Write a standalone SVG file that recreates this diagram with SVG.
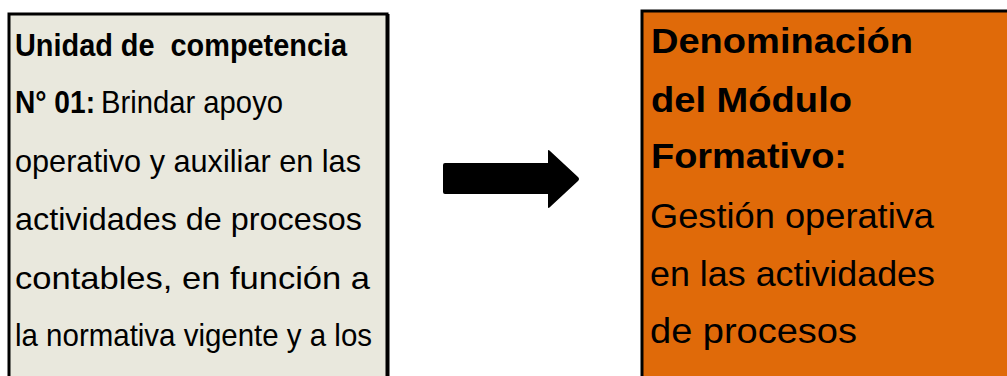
<svg xmlns="http://www.w3.org/2000/svg" width="1007" height="376" viewBox="0 0 1007 376">
<style>
.t{font-family:"Liberation Sans",Arial,sans-serif;fill:#000}
.l{font-size:32px}
.r{font-size:35px}
.b{font-weight:bold}
</style>
<rect width="1007" height="376" fill="#fff"/>
<g id="unidad">
<rect x="9" y="14" width="378" height="380" fill="#E9E8DD" stroke="#000" stroke-width="3"/>
<line x1="388" y1="14" x2="388" y2="376" stroke="#000" stroke-width="3"/>
<text class="t l b" x="15" y="56" textLength="332" lengthAdjust="spacingAndGlyphs" xml:space="preserve">Unidad de  competencia</text>
<text class="t l" x="15" y="113"><tspan class="b" textLength="80" lengthAdjust="spacingAndGlyphs">N° 01:</tspan><tspan dx="6" textLength="182" lengthAdjust="spacingAndGlyphs">Brindar apoyo</tspan></text>
<text class="t l" x="15" y="172" textLength="346" lengthAdjust="spacingAndGlyphs">operativo y auxiliar en las</text>
<text class="t l" x="15" y="230" textLength="347" lengthAdjust="spacingAndGlyphs">actividades de procesos</text>
<text class="t l" x="15" y="289" textLength="355" lengthAdjust="spacingAndGlyphs">contables, en función a</text>
<text class="t l" x="15" y="346" textLength="357" lengthAdjust="spacingAndGlyphs">la normativa vigente y a los</text>
</g>
<g id="connectors">
<path d="M445,163 H548 V151 Q548,149 550,151 L578,177 Q580,179 578,181 L550,207 Q548,209 548,207 V194 H445 Q443,194 443,192 V165 Q443,163 445,163 Z" fill="#000"/>
</g>
<g id="modulo">
<rect x="642" y="11" width="380" height="380" fill="#E06A09" stroke="#000" stroke-width="3"/>
<text class="t r b" x="651" y="53" textLength="262" lengthAdjust="spacingAndGlyphs">Denominación</text>
<text class="t r b" x="651" y="112" textLength="201" lengthAdjust="spacingAndGlyphs">del Módulo</text>
<text class="t r b" x="651" y="168" textLength="196" lengthAdjust="spacingAndGlyphs">Formativo:</text>
<text class="t r" x="650" y="228" textLength="284" lengthAdjust="spacingAndGlyphs">Gestión operativa</text>
<text class="t r" x="650" y="286" textLength="285" lengthAdjust="spacingAndGlyphs">en las actividades</text>
<text class="t r" x="650" y="343" textLength="207" lengthAdjust="spacingAndGlyphs">de procesos</text>
</g>
</svg>
